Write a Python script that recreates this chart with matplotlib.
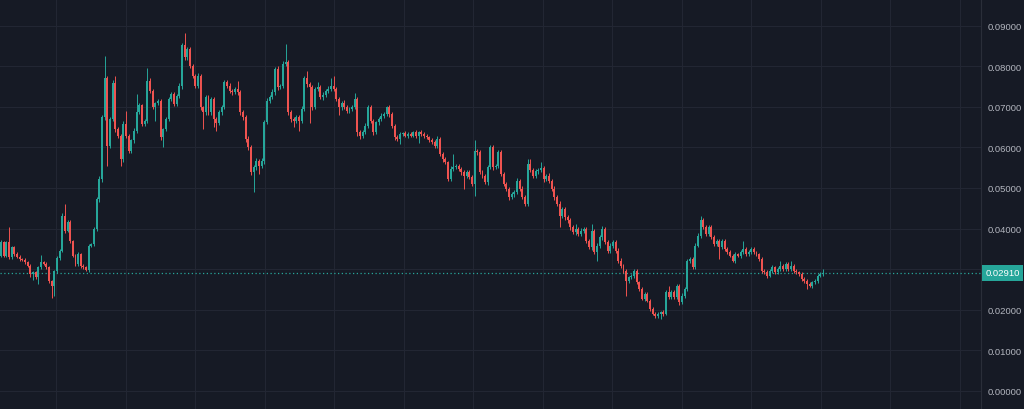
import matplotlib
matplotlib.use("Agg")
import matplotlib.pyplot as plt
import matplotlib.transforms as mtransforms
import numpy as np

# --- price data (open of each candle = previous close) ---
first_open = 0.0333

close_a = [0.0366, 0.0333, 0.0366, 0.0329, 0.0354, 0.0337, 0.0331, 0.0325, 0.0323, 0.0317,
           0.0309, 0.0288, 0.0292, 0.0280, 0.0305, 0.0317, 0.0313, 0.0305, 0.0270, 0.0258,
           0.0295, 0.0327, 0.0346, 0.0432, 0.0395, 0.0417, 0.0370, 0.0333, 0.0313, 0.0337,
           0.0309, 0.0305, 0.0299, 0.0358, 0.0362, 0.0399, 0.0473, 0.0522, 0.0674, 0.0770,
           0.0604, 0.0670, 0.0758, 0.0645, 0.0629, 0.0571, 0.0658, 0.0629, 0.0592, 0.0617,
           0.0641, 0.0686, 0.0704, 0.0658, 0.0666, 0.0764, 0.0740, 0.0699, 0.0709, 0.0715,
           0.0625, 0.0645, 0.0670, 0.0719, 0.0732, 0.0707, 0.0727, 0.0752, 0.0851, 0.0822,
           0.0842, 0.0801, 0.0777, 0.0752, 0.0777, 0.0699, 0.0686, 0.0723]
close_b = [0.0686, 0.0719, 0.0670, 0.0660, 0.0686, 0.0699, 0.0760, 0.0752, 0.0740, 0.0736,
           0.0744, 0.0736, 0.0686, 0.0674, 0.0621, 0.0600, 0.0539, 0.0551, 0.0567, 0.0555,
           0.0567, 0.0662, 0.0715, 0.0723, 0.0736, 0.0793, 0.0748, 0.0752, 0.0805, 0.0810,
           0.0686, 0.0670, 0.0666, 0.0674, 0.0666, 0.0695, 0.0770, 0.0756, 0.0748, 0.0699,
           0.0744, 0.0748, 0.0723, 0.0730, 0.0740, 0.0745, 0.0752, 0.0744, 0.0719, 0.0699,
           0.0710, 0.0699, 0.0690, 0.0695, 0.0699, 0.0719, 0.0637, 0.0629, 0.0637, 0.0653,
           0.0699, 0.0666, 0.0637, 0.0662, 0.0670, 0.0678, 0.0682, 0.0699, 0.0682, 0.0653,
           0.0625, 0.0621, 0.0633, 0.0635, 0.0629, 0.0633, 0.0629]
close_c = [0.0637, 0.0629, 0.0637, 0.0633, 0.0629, 0.0625, 0.0619, 0.0613, 0.0604, 0.0621,
           0.0584, 0.0571, 0.0563, 0.0522, 0.0547, 0.0551, 0.0553, 0.0547, 0.0539, 0.0530,
           0.0539, 0.0526, 0.0510, 0.0592, 0.0588, 0.0539, 0.0530, 0.0514, 0.0551, 0.0600,
           0.0551, 0.0555, 0.0588, 0.0534, 0.0510, 0.0498, 0.0477, 0.0485, 0.0490, 0.0518,
           0.0498, 0.0477, 0.0461, 0.0559, 0.0545, 0.0530, 0.0541, 0.0545, 0.0549, 0.0522,
           0.0530, 0.0518, 0.0498, 0.0477, 0.0461, 0.0432, 0.0448, 0.0428, 0.0420, 0.0403,
           0.0391, 0.0399, 0.0387, 0.0395, 0.0399, 0.0370, 0.0354, 0.0395, 0.0342, 0.0358,
           0.0379, 0.0399, 0.0366, 0.0346, 0.0358, 0.0366, 0.0346, 0.0321, 0.0309, 0.0296]
close_d = [0.0272, 0.0280, 0.0284, 0.0296, 0.0268, 0.0251, 0.0227, 0.0239, 0.0222, 0.0202,
           0.0190, 0.0185, 0.0190, 0.0194, 0.0190, 0.0243, 0.0231, 0.0243, 0.0231, 0.0259,
           0.0218, 0.0235, 0.0251, 0.0321, 0.0325, 0.0305, 0.0358, 0.0383, 0.0420, 0.0403,
           0.0387, 0.0403, 0.0379, 0.0362, 0.0370, 0.0354, 0.0370, 0.0350, 0.0342, 0.0333,
           0.0321, 0.0337, 0.0333, 0.0342, 0.0350, 0.0337, 0.0342, 0.0350, 0.0342, 0.0337,
           0.0325, 0.0296, 0.0292, 0.0284, 0.0296, 0.0305, 0.0292, 0.0300, 0.0309, 0.0300,
           0.0313, 0.0300, 0.0309, 0.0296, 0.0292, 0.0288, 0.0276, 0.0272, 0.0264, 0.0259,
           0.0268, 0.0272, 0.0284, 0.0288, 0.0291]

# wick lengths beyond the body, in units of 0.0001
up_a = [6, 3, 4, 39, 4, 3, 5, 3, 3, 4, 3, 4, 3, 3, 4, 18, 3, 4, 3, 3,
        4, 5, 3, 6, 29, 5, 4, 3, 4, 5, 3, 3, 4, 5, 3, 6, 5, 8, 6, 54,
        6, 5, 7, 19, 5, 4, 6, 32, 5, 4, 6, 46, 5, 4, 5, 31, 6, 5, 4, 5,
        5, 4, 6, 5, 5, 4, 5, 6, 7, 32, 6, 5, 4, 5, 6, 5, 4, 6]
dn_a = [4, 3, 4, 5, 3, 4, 3, 4, 3, 4, 4, 8, 14, 4, 16, 4, 3, 4, 5, 30,
        23, 4, 5, 4, 6, 4, 5, 4, 5, 4, 5, 4, 4, 5, 4, 5, 6, 7, 8, 6,
        49, 6, 5, 6, 7, 16, 6, 5, 6, 5, 5, 6, 4, 5, 6, 5, 6, 5, 33, 5,
        6, 25, 5, 6, 5, 6, 5, 6, 7, 6, 6, 5, 6, 5, 6, 7, 41, 6]
up_b = [5, 6, 5, 4, 5, 6, 7, 5, 6, 5, 6, 20, 5, 6, 5, 6, 5, 6, 7, 5,
        6, 5, 6, 5, 7, 6, 8, 5, 7, 45, 6, 5, 6, 5, 6, 7, 6, 19, 6, 5,
        6, 12, 5, 6, 5, 6, 18, 25, 5, 6, 5, 6, 5, 4, 5, 16, 5, 6, 5, 6,
        5, 6, 5, 4, 5, 6, 5, 4, 5, 4, 4, 5, 4, 4, 5, 4, 4]
dn_b = [5, 6, 20, 20, 5, 6, 5, 6, 5, 6, 5, 6, 5, 6, 7, 6, 8, 48, 7, 20,
        6, 7, 5, 6, 5, 7, 6, 5, 6, 5, 6, 7, 16, 6, 26, 6, 5, 6, 88, 6,
        5, 6, 5, 6, 5, 6, 5, 6, 5, 19, 6, 5, 6, 5, 6, 5, 8, 8, 6, 5,
        6, 5, 6, 5, 6, 5, 6, 5, 6, 5, 6, 5, 12, 5, 4, 5, 4]
up_c = [4, 5, 4, 5, 4, 5, 4, 4, 5, 6, 5, 5, 5, 4, 6, 33, 5, 5, 4, 5,
        6, 5, 5, 25, 5, 6, 5, 4, 6, 5, 6, 5, 6, 5, 5, 6, 5, 6, 5, 6,
        5, 6, 5, 12, 12, 5, 6, 5, 14, 6, 5, 6, 5, 6, 5, 6, 5, 6, 5, 6,
        5, 12, 5, 6, 5, 6, 5, 16, 5, 6, 5, 8, 6, 5, 6, 5, 6, 5, 6, 5]
dn_c = [4, 5, 19, 4, 5, 4, 5, 5, 6, 5, 6, 6, 5, 4, 5, 6, 5, 5, 6, 32,
        5, 5, 6, 30, 6, 5, 6, 5, 6, 5, 6, 5, 6, 5, 6, 5, 6, 5, 6, 5,
        6, 5, 6, 6, 5, 6, 5, 6, 5, 6, 5, 6, 5, 6, 5, 29, 5, 6, 5, 6,
        5, 6, 5, 6, 5, 6, 5, 6, 5, 21, 5, 6, 5, 6, 5, 6, 5, 6, 6, 5]
up_d = [5, 4, 5, 4, 5, 4, 5, 4, 5, 4, 4, 5, 4, 4, 5, 6, 16, 5, 6, 5,
        5, 6, 5, 4, 5, 4, 6, 5, 12, 5, 6, 5, 6, 5, 4, 5, 4, 5, 4, 5,
        4, 5, 4, 5, 20, 4, 5, 4, 5, 4, 4, 5, 4, 5, 4, 5, 4, 5, 12, 4,
        5, 4, 12, 4, 5, 4, 4, 5, 4, 5, 4, 5, 4, 4, 9]
dn_d = [37, 5, 4, 5, 4, 5, 4, 5, 4, 5, 4, 5, 4, 13, 5, 4, 5, 4, 5, 4,
        5, 4, 5, 4, 5, 4, 5, 4, 5, 4, 5, 4, 5, 4, 5, 29, 5, 4, 5, 4,
        4, 5, 4, 5, 4, 5, 4, 5, 4, 5, 4, 5, 4, 5, 4, 5, 4, 5, 4, 5,
        4, 5, 4, 5, 4, 5, 4, 5, 13, 4, 5, 4, 5, 4, 4]

last_price = 0.02910
price_ticks = [0.00, 0.01, 0.02, 0.03, 0.04, 0.05, 0.06, 0.07, 0.08, 0.09]

closes = np.array(close_a + close_b + close_c + close_d)
opens = np.concatenate([[first_open], closes[:-1]])
highs = np.maximum(opens, closes) + np.array(up_a + up_b + up_c + up_d) * 1e-4
lows = np.minimum(opens, closes) - np.array(dn_a + dn_b + dn_c + dn_d) * 1e-4

BG = "#161a25"
GRID = "#222633"
UP = "#26a69a"
DOWN = "#ef5350"
TEXT = "#b2b5be"

W, H = 1024, 410
fig = plt.figure(figsize=(W / 100, H / 100), dpi=100, facecolor=BG)
ax = fig.add_axes([0, 0, 981 / W, 1])
ax.set_facecolor(BG)

n = len(closes)
idx = np.arange(n)
step = 822 / (n - 1)          # pixels per candle
ax.set_xlim(-1 / step, 980 / step)
ax.set_ylim(-18 / 4060, 392 / 4060)

# time grid every ~69.5 px
grid_px = 56 + 69.5 * np.arange(14)
ax.set_xticks((grid_px - 1) / step)
ax.set_xticklabels([])
ax.tick_params(axis="x", length=0)

ax.yaxis.tick_right()
ax.set_yticks(price_ticks)
ax.set_yticklabels([f"{v:.5f}" for v in price_ticks], family="Liberation Sans")
ax.tick_params(axis="y", length=0, pad=4.5, labelsize=6.8, labelcolor=TEXT)
ax.grid(True, color=GRID, linewidth=0.8)
ax.set_axisbelow(True)

for s in ["top", "left", "bottom"]:
    ax.spines[s].set_visible(False)
ax.spines["right"].set_color("#2a2e39")
ax.spines["right"].set_linewidth(0.8)

colors = np.where(closes >= opens, UP, DOWN)
ax.vlines(idx, lows, highs, colors=colors, linewidth=0.7, zorder=2)
body = np.maximum(np.abs(closes - opens), 0.00015)
ax.bar(idx, body, bottom=np.minimum(opens, closes), width=0.74,
       color=colors, linewidth=0, zorder=3)

ax.axhline(last_price, color=UP, linestyle=(0, (1, 2)), linewidth=0.9, zorder=1)

trans = mtransforms.blended_transform_factory(ax.transAxes, ax.transData)
ax.text(1.0045, last_price, f"{last_price:.5f}", transform=trans, ha="left", va="center",
        fontsize=6.8, color="white", family="Liberation Sans", clip_on=False, zorder=10,
        bbox=dict(boxstyle="square,pad=0.35", facecolor=UP, edgecolor="none"))

fig.savefig("out.png", dpi=100, facecolor=BG)
